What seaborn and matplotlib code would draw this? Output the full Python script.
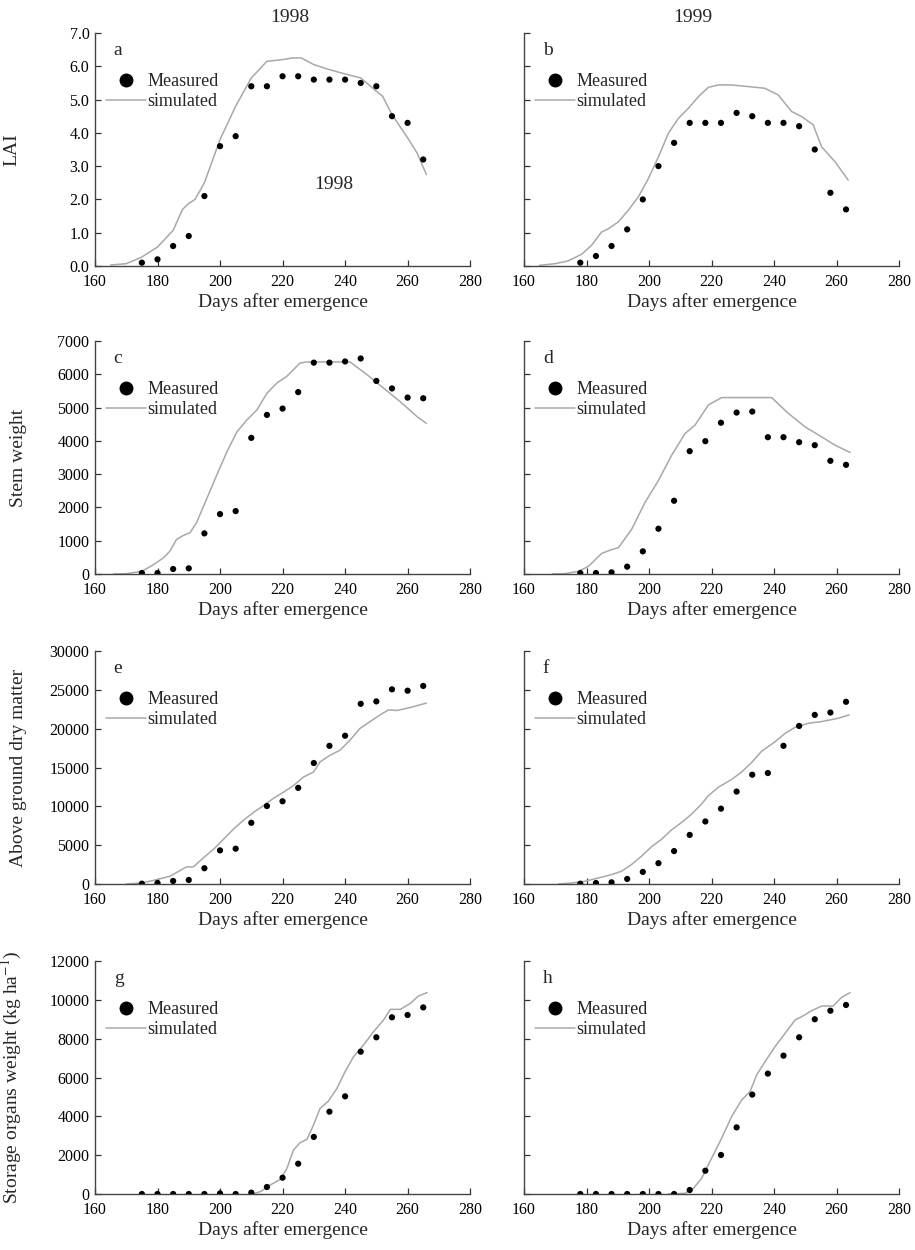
import pandas as pd
import matplotlib.pyplot as plt
import seaborn as sns
from matplotlib.lines import Line2D

# Measurement days
days_1998 = [175, 180, 185, 190, 195, 200, 205, 210, 215, 220, 225, 230, 235, 240, 245, 250, 255, 260, 265]
days_1999 = [178, 183, 188, 193, 198, 203, 208, 213, 218, 223, 228, 233, 238, 243, 248, 253, 258, 263]

# a - LAI 1998
lai98_meas = [0.1, 0.2, 0.6, 0.9, 2.1, 3.6, 3.9, 5.4, 5.4, 5.7, 5.7, 5.6, 5.6, 5.6, 5.5, 5.4, 4.5, 4.3, 3.2]
lai98_sim_x = [165, 170, 175, 180, 185, 188, 190, 192, 195, 200, 205, 210, 213, 215, 220, 223, 226, 230, 235, 240, 245, 250, 252, 255, 260, 263, 266]
lai98_sim_y = [0.03, 0.07, 0.27, 0.57, 1.07, 1.7, 1.88, 2.0, 2.5, 3.8, 4.8, 5.65, 5.95, 6.15, 6.2, 6.25, 6.25, 6.05, 5.9, 5.77, 5.65, 5.25, 5.1, 4.55, 3.85, 3.4, 2.75]

# b - LAI 1999
lai99_meas = [0.1, 0.3, 0.6, 1.1, 2.0, 3.0, 3.7, 4.3, 4.3, 4.3, 4.6, 4.5, 4.3, 4.3, 4.2, 3.5, 2.2, 1.7]
lai99_sim_x = [165, 170, 174, 178.4, 181.6, 184.8, 187, 190.2, 193.4, 196.6, 199.8, 203, 206.2, 209.4, 212.6, 215.8, 219, 222.2, 226.4, 231.7, 237, 241.3, 245.6, 248.8, 252.5, 255.2, 259.5, 263.7]
lai99_sim_y = [0.02, 0.07, 0.15, 0.35, 0.62, 1.02, 1.12, 1.33, 1.68, 2.08, 2.63, 3.28, 3.99, 4.44, 4.74, 5.09, 5.37, 5.44, 5.44, 5.39, 5.34, 5.14, 4.64, 4.49, 4.24, 3.58, 3.13, 2.58]

# c - stem weight 1998
stem98_meas = [30, 30, 150, 170, 1220, 1800, 1890, 4090, 4780, 4970, 5465, 6350, 6350, 6385, 6475, 5800, 5575, 5300, 5280]
stem98_sim_x = [166, 170, 175, 178.7, 181.9, 184, 186.1, 188.3, 190.4, 192.5, 195.7, 198.9, 202.2, 205.4, 208.6, 211.8, 215, 218.2, 221.4, 223.5, 225.6, 227.8, 241.6, 247, 252.3, 257.6, 263, 266]
stem98_sim_y = [0, 10, 80, 280, 485, 690, 1040, 1160, 1240, 1545, 2250, 2960, 3670, 4270, 4630, 4930, 5430, 5740, 5940, 6140, 6340, 6370, 6370, 5990, 5585, 5180, 4730, 4525]

# d - stem weight 1999
stem99_meas = [30, 30, 50, 220, 680, 1360, 2200, 3690, 3990, 4545, 4850, 4880, 4110, 4110, 3960, 3870, 3400, 3280]
stem99_sim_x = [169, 173, 177.4, 180.6, 184.8, 188, 190.2, 194.4, 198.7, 203, 207.2, 211.5, 214.7, 219, 223.2, 239.2, 244.5, 249.9, 255.2, 259.5, 264.3]
stem99_sim_y = [0, 10, 80, 230, 615, 735, 790, 1340, 2150, 2810, 3565, 4220, 4475, 5080, 5300, 5300, 4830, 4420, 4120, 3870, 3650]

# e - above ground dry matter 1998
agdm98_meas = [40, 130, 390, 520, 2030, 4330, 4545, 7880, 10040, 10650, 12380, 15580, 17790, 19090, 23200, 23510, 25065, 24890, 25500]
agdm98_sim_x = [170, 175, 179.7, 184, 187.2, 189.3, 191.5, 194.7, 197.9, 201.1, 204.3, 207.5, 210.7, 213.9, 217.1, 220.3, 223.5, 226.7, 229.9, 232, 235.2, 238.4, 241.6, 244.8, 248, 251.2, 253.9, 256.6, 260.9, 266]
agdm98_sim_y = [0, 130, 560, 1000, 1730, 2210, 2210, 3380, 4460, 5760, 7060, 8220, 9220, 10090, 11040, 11820, 12680, 13770, 14420, 15720, 16580, 17230, 18530, 20040, 20910, 21775, 22420, 22340, 22730, 23290]

# f - above ground dry matter 1999
agdm99_meas = [40, 130, 215, 650, 1560, 2680, 4240, 6320, 8050, 9700, 11900, 14070, 14290, 17790, 20350, 21775, 22080, 23460]
agdm99_sim_x = [171, 175.2, 179.5, 183.8, 188, 191.2, 194.4, 197.6, 200.8, 204, 207.2, 210.4, 213.6, 216.8, 219, 222.2, 226.4, 229.6, 232.8, 236, 240.3, 243.5, 246.7, 250.9, 255.2, 257.9, 260.5, 264]
agdm99_sim_y = [0, 130, 350, 780, 1210, 1645, 2510, 3590, 4800, 5760, 6970, 7920, 9000, 10300, 11385, 12470, 13460, 14420, 15630, 17100, 18310, 19390, 20170, 20690, 20910, 21125, 21340, 21775]

# g - storage organs 1998
stor98_meas = [0, 0, 0, 0, 0, 30, 0, 70, 360, 840, 1560, 2940, 4240, 5030, 7330, 8070, 9100, 9220, 9610]
stor98_sim_x = [210.2, 212.9, 216, 219.3, 221.4, 223.5, 225.6, 227.8, 229.9, 232, 234.7, 237.4, 240, 242.7, 245.9, 249.1, 252.3, 254.5, 257.7, 260.9, 263.5, 266.2]
stor98_sim_y = [0, 120, 460, 755, 1320, 2270, 2640, 2815, 3550, 4410, 4790, 5440, 6300, 7070, 7670, 8360, 8960, 9510, 9510, 9820, 10200, 10370]

# h - storage organs 1999
stor99_meas = [0, 0, 0, 0, 0, 0, 0, 205, 1200, 2010, 3430, 5120, 6200, 7125, 8070, 9000, 9440, 9735]
stor99_sim_x = [206.2, 211.5, 214.2, 216.8, 220, 223.2, 226.4, 229.6, 232.3, 234.4, 237.1, 240.3, 243.5, 246.7, 248.8, 252, 255.2, 258.9, 261.6, 264.3]
stor99_sim_y = [0, 35, 290, 805, 1840, 2870, 3985, 4840, 5270, 6130, 6815, 7590, 8275, 8960, 9130, 9440, 9680, 9680, 10130, 10370]

ylabels = ["LAI", "Stem weight", "Above ground dry matter", "Storage organs weight (kg ha$^{-1}$)"]
yticks = [
    ([0, 1, 2, 3, 4, 5, 6, 7], ["0.0", "1.0", "2.0", "3.0", "4.0", "5.0", "6.0", "7.0"]),
    ([0, 1000, 2000, 3000, 4000, 5000, 6000, 7000], None),
    ([0, 5000, 10000, 15000, 20000, 25000, 30000], None),
    ([0, 2000, 4000, 6000, 8000, 10000, 12000], None),
]
letters = ["a", "b", "c", "d", "e", "f", "g", "h"]

panels = [
    (days_1998, lai98_meas, lai98_sim_x, lai98_sim_y),
    (days_1999, lai99_meas, lai99_sim_x, lai99_sim_y),
    (days_1998, stem98_meas, stem98_sim_x, stem98_sim_y),
    (days_1999, stem99_meas, stem99_sim_x, stem99_sim_y),
    (days_1998, agdm98_meas, agdm98_sim_x, agdm98_sim_y),
    (days_1999, agdm99_meas, agdm99_sim_x, agdm99_sim_y),
    (days_1998, stor98_meas, stor98_sim_x, stor98_sim_y),
    (days_1999, stor99_meas, stor99_sim_x, stor99_sim_y),
]

sns.set_style("ticks")
plt.rcParams["font.family"] = ["Liberation Serif", "DejaVu Serif"]
plt.rcParams["mathtext.fontset"] = "stix"

fig = plt.figure(figsize=(9.15, 12.5), dpi=100)

lefts = [0.1038, 0.5727]
bottoms = [0.7872, 0.5408, 0.2928, 0.0448]
ylab_x = [-0.2, -0.18, -0.18, -0.19]
line_color = "#a8a8a8"

for i, (mx, my, sx, sy) in enumerate(panels):
    row, col = divmod(i, 2)
    ax = fig.add_axes([lefts[col], bottoms[row], 0.41, 0.1864])

    sim = pd.DataFrame({"day": sx, "value": sy})
    meas = pd.DataFrame({"day": mx, "value": my})
    sns.lineplot(data=sim, x="day", y="value", ax=ax, color=line_color, lw=1.1)
    sns.scatterplot(data=meas, x="day", y="value", ax=ax, color="black", s=20, edgecolor="none", zorder=3)

    ax.set_xlim(160, 280)
    ax.set_xticks([160, 180, 200, 220, 240, 260, 280])
    ticks, tlabels = yticks[row]
    ax.set_ylim(ticks[0], ticks[-1])
    ax.set_yticks(ticks)
    if col == 0:
        if tlabels:
            ax.set_yticklabels(tlabels)
        ax.set_ylabel(ylabels[row], fontsize=14)
        ax.yaxis.set_label_coords(ylab_x[row], 0.5)
    else:
        ax.set_yticklabels([])
        ax.set_ylabel("")
    ax.set_xlabel("Days after emergence", fontsize=14, labelpad=2)
    ax.tick_params(direction="in", length=4, width=0.9, labelsize=11.5, colors="#333333", labelcolor="black")
    ax.tick_params(axis="x", pad=6)
    ax.tick_params(axis="y", pad=4)
    for side in ["left", "bottom"]:
        ax.spines[side].set_color("#444444")
        ax.spines[side].set_linewidth(1.0)
    sns.despine(ax=ax)

    ax.text(0.05, 0.96, letters[i], transform=ax.transAxes, fontsize=14, va="top", ha="left")

    handles = [
        Line2D([], [], marker="o", color="black", ls="none", markersize=9),
        Line2D([], [], color=line_color, lw=1.1),
    ]
    ax.legend(handles, ["Measured", "simulated"], loc="upper left", bbox_to_anchor=(0.01, 0.86),
              frameon=False, fontsize=13, handlelength=2.2, handletextpad=0.1,
              labelspacing=0.2, borderaxespad=0.2, borderpad=0.2)

# text inside panel a
fig.axes[0].text(236.5, 2.45, "1998", fontsize=14, ha="center", va="center")

fig.text(0.317, 0.986, "1998", fontsize=14, ha="center", va="center")
fig.text(0.757, 0.986, "1999", fontsize=14, ha="center", va="center")

fig.savefig("out.png", dpi=100)
